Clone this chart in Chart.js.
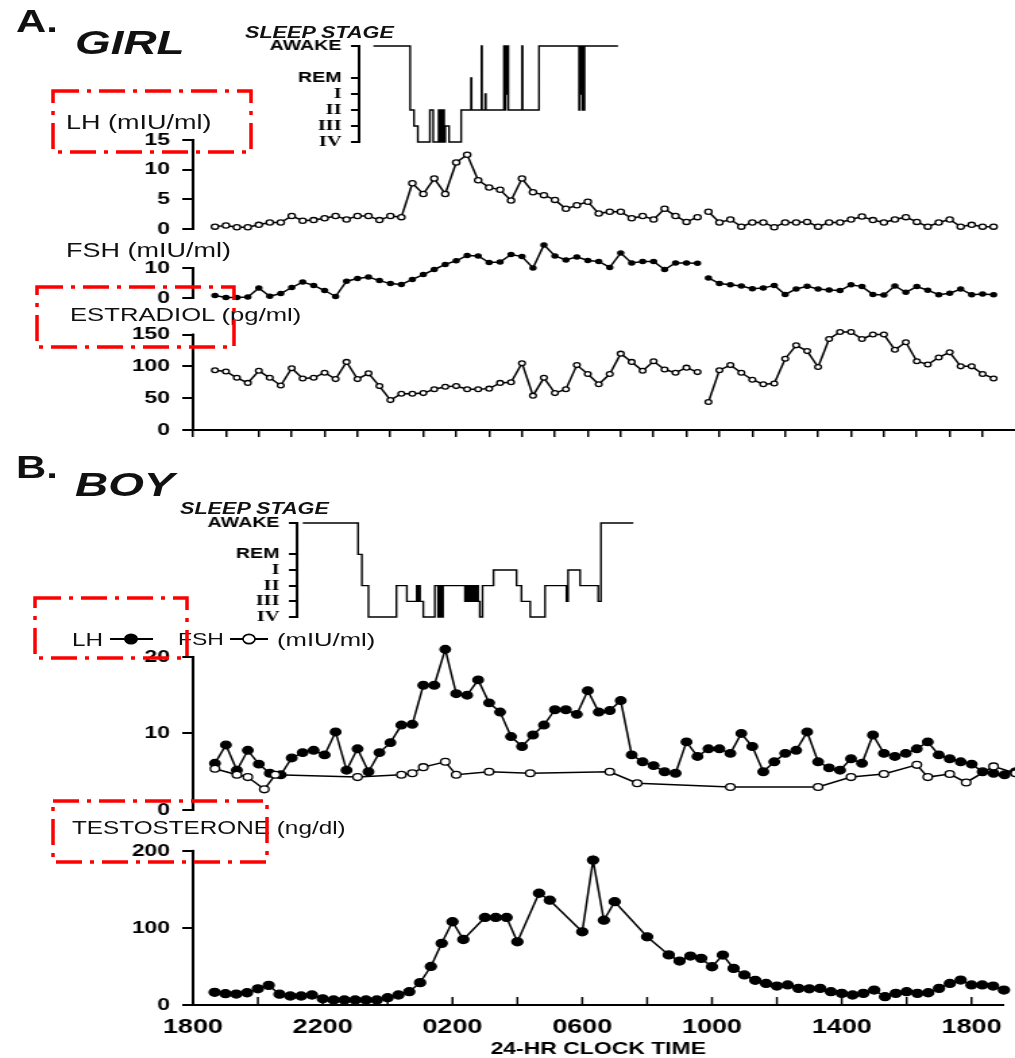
<!DOCTYPE html>
<html>
<head>
<meta charset="utf-8">
<script src="https://cdn.jsdelivr.net/npm/chart.js@4.4.1/dist/chart.umd.min.js"></script>
<style>
  body { margin: 0; background: #fff; }
  #page { position: relative; width: 1015px; height: 1058px; overflow: hidden; font-family: "Liberation Sans", Arial, sans-serif; color: #111; }
  canvas { position: absolute; left: 0; }
  .lbl { position: absolute; white-space: nowrap; line-height: 1; transform: scaleX(1.35); transform-origin: 0 0; }
  .hd { font-weight: bold; }
  .it { font-style: italic; font-weight: bold; }
  #marks { position: absolute; left: 0; top: 0; pointer-events: none; }
</style>
</head>
<body>
<div id="page">
  <canvas id="sleepA"></canvas>
  <canvas id="lhA"></canvas>
  <canvas id="fshA"></canvas>
  <canvas id="e2A"></canvas>
  <canvas id="sleepB"></canvas>
  <canvas id="gnB"></canvas>
  <canvas id="tB"></canvas>

  <div class="lbl hd" style="left:16px;top:6px;font-size:31px">A.</div>
  <div class="lbl it" style="left:75px;top:25px;font-size:34px">GIRL</div>
  <div class="lbl it" style="left:245px;top:25px;font-size:16px">SLEEP STAGE</div>
  <div class="lbl" style="left:66px;top:112px;font-size:20px">LH (mIU/ml)</div>
  <div class="lbl" style="left:66px;top:240px;font-size:20px">FSH (mIU/ml)</div>
  <div class="lbl" style="left:70px;top:305px;font-size:19px">ESTRADIOL (pg/ml)</div>

  <div class="lbl hd" style="left:16px;top:452px;font-size:31px">B.</div>
  <div class="lbl it" style="left:75px;top:467px;font-size:34px">BOY</div>
  <div class="lbl it" style="left:180px;top:501px;font-size:16px">SLEEP STAGE</div>
  <div class="lbl" style="left:72px;top:631px;font-size:18px">LH</div>
  <div class="lbl" style="left:178px;top:631px;font-size:17px">FSH</div>
  <div class="lbl" style="left:277px;top:630px;font-size:19px">(mIU/ml)</div>
  <div class="lbl" style="left:72px;top:819px;font-size:18px">TESTOSTERONE (ng/dl)</div>

  <svg id="marks" width="1015" height="1058">
    <!-- legend symbols of the boy's LH / FSH panel -->
    <g stroke="#000" stroke-width="2">
      <line x1="110" y1="639" x2="153" y2="639"/>
      <ellipse cx="131" cy="639" rx="6" ry="4.6" fill="#000"/>
      <line x1="230" y1="639" x2="268" y2="639"/>
      <ellipse cx="249" cy="639" rx="6" ry="4.6" fill="#fff" stroke-width="1.6"/>
    </g>
    <g fill="none" stroke="#f00" stroke-width="3.5" stroke-dasharray="26 8 4 8">
      <rect x="53" y="91" width="198" height="61"/>
      <rect x="37" y="287" width="197" height="60"/>
      <rect x="35" y="598" width="152" height="60"/>
      <rect x="53" y="801" width="214" height="61"/>
    </g>
  </svg>
</div>

<script>
// ---- data ----
// hormone samples every 20 min; the girl's record is broken once mid-morning
const STEP_MIN = 20;

const girlStart1 = "18:40";
const girlStart2 = "09:40";
const girlLH1 = [0.4, 0.6, 0.3, 0.3, 0.7, 1.1, 1.1, 2.2, 1.4, 1.5, 1.8, 2.2, 1.6, 2.2, 2.2, 1.5, 2.2, 2.0,
  7.7, 5.9, 8.5, 5.9, 11.2, 12.5, 8.2, 7.0, 6.6, 4.8, 8.5, 6.2, 5.7, 4.9, 3.4, 4.0, 4.6, 2.6, 2.9, 2.9,
  1.8, 2.2, 1.6, 3.4, 2.2, 1.2, 2.0];
const girlLH2 = [2.9, 1.1, 1.6, 0.4, 1.1, 1.1, 0.3, 1.1, 1.1, 1.2, 0.4, 1.1, 1.1, 1.6, 2.1, 1.5, 1.1, 1.6,
  2.0, 1.2, 0.4, 1.1, 1.6, 0.4, 0.7, 0.4, 0.4];
const girlFSH1 = [0.8, 0.2, 0.2, 0.3, 3.3, 0.6, 1.5, 3.5, 5.3, 4.2, 2.5, 0.5, 5.6, 6.5, 7.0, 5.8, 4.8, 4.5,
  6.2, 7.8, 9.5, 11.2, 12.4, 14.2, 14.0, 11.8, 12.0, 14.5, 13.8, 10.0, 17.7, 14.0, 12.7, 13.7, 12.5,
  12.2, 10.2, 15.0, 11.7, 12.2, 12.2, 9.5, 11.7, 11.7, 11.6];
const girlFSH2 = [6.7, 4.8, 4.4, 4.0, 3.1, 3.3, 4.2, 1.2, 3.0, 3.9, 3.0, 2.7, 2.5, 4.4, 3.8, 1.2, 1.0, 4.0,
  1.9, 3.8, 2.6, 1.1, 1.6, 3.0, 1.1, 1.3, 1.1];
const girlE2_1 = [94, 92, 82, 74, 93, 82, 70, 97, 81, 82, 90, 80, 107, 80, 89, 69, 47, 57, 57, 58, 64, 68,
  69, 64, 64, 65, 74, 75, 105, 54, 82, 58, 64, 102, 88, 72, 88, 120, 107, 93, 108, 95, 90, 98, 91];
const girlE2_2 = [44, 94, 102, 90, 79, 72, 73, 112, 133, 124, 99, 143, 154, 154, 143, 150, 150, 126, 138,
  108, 103, 114, 122, 100, 100, 88, 81];

const boyStart = "18:40";
const boyLH = [6.1, 8.5, 5.2, 7.8, 6.0, 4.8, 4.6, 6.8, 7.5, 7.8, 7.2, 10.2, 5.2, 8.0, 5.0, 7.5, 8.8, 11.1,
  11.2, 16.3, 16.3, 21.0, 15.2, 15.0, 17.0, 14.0, 12.8, 9.6, 8.3, 9.8, 11.1, 13.1, 13.1, 12.5, 15.6, 12.8,
  13.0, 14.3, 7.2, 6.3, 5.8, 5.0, 4.8, 8.9, 7.0, 8.0, 8.0, 7.4, 10.0, 8.3, 5.0, 6.3, 7.4, 7.8, 10.2, 6.3,
  5.5, 5.2, 6.7, 6.1, 9.8, 7.4, 7.0, 7.4, 8.0, 8.9, 7.2, 6.7, 6.3, 6.0, 5.0, 4.8, 4.6, 5.0];
const boyT = [16.5, 14.7, 14.2, 15.9, 21, 25.5, 14, 11.7, 11.7, 13, 8, 6.5, 6.5, 6.5, 6.5, 6.5, 9.5, 13,
  17.3, 29, 50, 80, 108, 85, null, 113.6, 113.6, 113.6, 82, null, 145, 136, null, null, 95, 188, 110, 134,
  null, null, 88.5, null, 65, 57, 63.5, 60.5, 49.6, 64.8, 47.5, 39, 32, 28, 24.6, 26, 21.6, 21, 21.6, 17.3,
  15.1, 13, 15.1, 19.4, 10.8, 15.1, 17.3, 15.1, 15.9, 21.6, 28, 32.4, 26, 26, 24.6, 19.4];
// the boy's FSH was measured less often
const boyFSHTimes = ["18:40", "19:20", "19:40", "20:10", "20:30", "23:00", "00:20", "00:40", "01:00",
  "01:40", "02:00", "03:00", "04:15", "06:40", "07:30", "10:20", "13:00", "14:00", "15:00", "16:00",
  "16:20", "17:00", "17:30", "18:20", "19:00"];
const boyFSH = [5.4, 4.6, 4.3, 2.7, 4.6, 4.3, 4.6, 4.8, 5.6, 6.3, 4.6, 5.0, 4.8, 5.0, 3.5, 3.0, 3.0, 4.3,
  4.7, 5.9, 4.3, 4.7, 3.6, 5.7, 4.8];

// hypnograms: clock time at which each stage begins
const sleepA_t = ["23:29", "00:36", "00:43", "00:50", "01:12", "01:18", "01:28", "01:30", "01:32", "01:34",
  "01:36", "01:38", "01:40", "01:47", "02:09", "02:27", "02:28", "02:46", "02:47", "02:53", "02:54",
  "03:27", "03:29", "03:30", "03:32", "03:33", "03:35", "04:00", "04:01", "04:31", "05:44", "05:45",
  "05:47", "05:48", "05:50", "05:51", "05:53", "05:54", "06:55"];
const sleepA_s = ["AWAKE", "II", "III", "IV", "II", "IV", "II", "IV", "II", "IV", "II", "IV", "III", "IV",
  "II", "REM", "II", "AWAKE", "II", "I", "II", "AWAKE", "II", "AWAKE", "I", "AWAKE", "II", "AWAKE", "II",
  "AWAKE", "II", "AWAKE", "I", "AWAKE", "II", "AWAKE", "II", "AWAKE", "AWAKE"];
const sleepB_t = ["21:20", "23:01", "23:08", "23:20", "00:11", "00:30", "00:48", "00:50", "00:52", "00:54",
  "01:00", "01:21", "01:27", "01:30", "01:33", "01:36", "02:16", "02:19", "02:22", "02:25", "02:28",
  "02:31", "02:34", "02:37", "02:40", "02:43", "02:48", "03:08", "03:50", "03:59", "04:15", "04:42",
  "05:21", "05:24", "05:46", "06:19", "06:24", "07:23"];
const sleepB_s = ["AWAKE", "REM", "II", "IV", "II", "III", "II", "III", "II", "III", "IV", "II", "IV", "II",
  "IV", "II", "III", "II", "III", "II", "III", "II", "III", "II", "III", "IV", "II", "I", "II", "III", "IV",
  "II", "III", "I", "II", "III", "AWAKE", "AWAKE"];
const stageLevels = { IV: 0, III: 1, II: 2, I: 3, REM: 4, AWAKE: 6 };

// ---- layout ----
const S = 1015 / 752;          // the scanned figure is stretched sideways
const W = 752;                 // canvas drawing width, shown at 1015px
const X0 = 193, PXH = 32.9;    // page x of 1800 and px per hour
const SANS = "'Liberation Sans', Arial, sans-serif";

function toMin(hhmm) {
  const [h, m] = hhmm.split(':').map(Number);
  return h * 60 + m;
}
// hours after 18:00 of the first evening, for clock times in order
function unwrap(times) {
  let day = 0, prev = -Infinity;
  return times.map(t => {
    let v = toMin(t) - 18 * 60 + day * 1440;
    while (v < prev) { day++; v += 1440; }
    prev = v;
    return v / 60;
  });
}
function series(start, vals) {
  let t0 = unwrap([start])[0];
  if (t0 < 0) t0 += 24;   // morning start belongs to the next day
  return vals.map((v, i) => ({ x: t0 + i * STEP_MIN / 60, y: v }));
}
function pairs(times, vals) {
  const hs = unwrap(times);
  return vals.map((v, i) => ({ x: hs[i], y: v }));
}

// short y axis line that only spans the labelled range
const bracket = {
  id: 'bracket',
  beforeDatasetsDraw(chart, args, o) {
    const { ctx, chartArea: a, scales: { y } } = chart;
    ctx.save();
    ctx.strokeStyle = '#000';
    ctx.lineWidth = 2;
    ctx.beginPath();
    ctx.moveTo(a.left, y.getPixelForValue(o.from) + 1);
    ctx.lineTo(a.left, y.getPixelForValue(o.to) - 1);
    ctx.stroke();
    ctx.restore();
  }
};
// tick marks that point up into the plot
const upTicks = {
  id: 'upTicks',
  afterDraw(chart, args, o) {
    if (!o.step) return;
    const { ctx, chartArea: a, scales: { x } } = chart;
    ctx.save();
    ctx.strokeStyle = '#000';
    ctx.lineWidth = 1.5;
    for (let v = 0; v <= x.max; v += o.step) {
      const px = x.getPixelForValue(v);
      ctx.beginPath();
      ctx.moveTo(px, a.bottom);
      ctx.lineTo(px, a.bottom - o.len);
      ctx.stroke();
    }
    ctx.restore();
  }
};

// box: zero = page y of value 0, unit = px per unit, max = top of plot area
function makeChart(id, box, datasets, yOpt, xOpt) {
  const c = document.getElementById(id);
  const top = box.zero - box.max * box.unit;
  const h = Math.round(box.padT + (box.zero - top) + box.padB + (box.axisH || 0));
  c.width = W;
  c.height = h;
  c.style.width = '1015px';
  c.style.height = h + 'px';
  c.style.top = (top - box.padT) + 'px';
  const left = box.left || X0;
  const ticks = yOpt.ticks;
  return new Chart(c, {
    type: 'line',
    data: { datasets },
    plugins: [bracket, upTicks],
    options: {
      responsive: false,
      animation: false,
      events: [],
      layout: { padding: { top: box.padT, bottom: box.padB, left: 0, right: 0 }, autoPadding: false },
      plugins: {
        legend: { display: false },
        tooltip: { enabled: false },
        bracket: { from: ticks[0], to: ticks[ticks.length - 1] },
        upTicks: xOpt.up || {}
      },
      scales: {
        x: Object.assign({
          type: 'linear',
          min: (left - X0) / PXH,
          max: (1015 - X0) / PXH,
          display: false
        }, xOpt.scale),
        y: {
          min: 0,
          max: box.max,
          afterBuildTicks: s => { s.ticks = ticks.map(v => ({ value: v })); },
          afterFit: s => { s.width = left / S; },
          border: { display: false },
          grid: { drawOnChartArea: false, drawTicks: true, tickLength: yOpt.tickLength || 8, color: '#000', lineWidth: 2 },
          ticks: {
            color: '#000',
            autoSkip: false,
            padding: yOpt.pad || 9,
            font: yOpt.font || { family: SANS, size: 17, weight: 'bold' },
            callback: yOpt.label || (v => v)
          }
        }
      }
    }
  });
}

function line(points, style) {
  return Object.assign({
    data: points,
    borderColor: '#000',
    borderWidth: 1.5,
    pointBorderColor: '#000',
    pointBorderWidth: 1.3,
    tension: 0,
    clip: false,
    spanGaps: true
  }, style);
}
const openDot = r => ({ pointRadius: r, pointBackgroundColor: '#fff' });
const fullDot = r => ({ pointRadius: r, pointBackgroundColor: '#000' });

// x axis without labels (girl) and with clock labels (boy)
const hourTicks = {
  scale: {
    display: true,
    afterFit: s => { s.height = 10; },
    border: { display: true, color: '#000', width: 2 },
    grid: { drawOnChartArea: false, drawTicks: true, tickLength: 7, color: '#000', lineWidth: 1.5 },
    ticks: { stepSize: 1, includeBounds: false, autoSkip: false, maxRotation: 0, callback: () => '' }
  }
};
const clockAxis = {
  up: { step: 2, len: 8 },
  scale: {
    display: true,
    afterFit: s => { s.height = 53; },
    border: { display: true, color: '#000', width: 2 },
    grid: { display: false, drawTicks: false },
    ticks: {
      stepSize: 4, includeBounds: false, autoSkip: false, maxRotation: 0, padding: 10, color: '#000',
      font: { family: SANS, size: 20, weight: 'bold' },
      callback: v => String(((18 + v) % 24) * 100).padStart(4, '0')
    },
    title: { display: true, text: '24-HR CLOCK TIME', color: '#000', padding: 0,
      font: { family: SANS, size: 17, weight: 'bold', lineHeight: 1 } }
  }
};

// sleep stage axis
const stageNames = Object.fromEntries(Object.entries(stageLevels).map(([k, v]) => [v, k]));
const sleepY = {
  ticks: [0, 1, 2, 3, 4, 6], tickLength: 6, pad: 7,
  label: v => stageNames[v],
  font: c => ({
    family: c.tick && c.tick.value <= 3 ? "'Liberation Serif', serif" : SANS,
    size: c.tick && c.tick.value <= 3 ? 15 : 14.5,
    weight: 'bold'
  })
};
function hypno(times, stages) {
  return line(pairs(times, stages.map(s => stageLevels[s])), { stepped: true, pointRadius: 0, borderWidth: 1.4 });
}

// ---- A. girl ----
makeChart('sleepA', { zero: 141.7, unit: 16, max: 6, padT: 20, padB: 20, left: 359 },
  [hypno(sleepA_t, sleepA_s)], sleepY, {});

makeChart('lhA', { zero: 229, unit: 89 / 15, max: 16, padT: 24, padB: 24 },
  [line(series(girlStart1, girlLH1), openDot(2.6)), line(series(girlStart2, girlLH2), openDot(2.6))],
  { ticks: [0, 5, 10, 15] }, {});

makeChart('fshA', { zero: 298.3, unit: 3, max: 20, padT: 24, padB: 24 },
  [line(series(girlStart1, girlFSH1), fullDot(2.1)), line(series(girlStart2, girlFSH2), fullDot(2.1))],
  { ticks: [0, 10] }, {});

makeChart('e2A', { zero: 430, unit: 95.5 / 150, max: 165, padT: 24, padB: 14, axisH: 10 },
  [line(series(girlStart1, girlE2_1), openDot(2.4)), line(series(girlStart2, girlE2_2), openDot(2.4))],
  { ticks: [0, 50, 100, 150] }, hourTicks);

// ---- B. boy ----
makeChart('sleepB', { zero: 616.7, unit: 94 / 6, max: 6, padT: 20, padB: 20, left: 297 },
  [hypno(sleepB_t, sleepB_s)], sleepY, {});

makeChart('gnB', { zero: 810, unit: 7.67, max: 23, padT: 24, padB: 24 },
  [line(pairs(boyFSHTimes, boyFSH), openDot(3.4)), line(series(boyStart, boyLH), fullDot(3.8))],
  { ticks: [0, 10, 20] }, {});

makeChart('tB', { zero: 1005, unit: 0.772, max: 205, padT: 24, padB: 0, axisH: 53 },
  [line(series(boyStart, boyT), fullDot(4))],
  { ticks: [0, 100, 200] }, clockAxis);
</script>
</body>
</html>
